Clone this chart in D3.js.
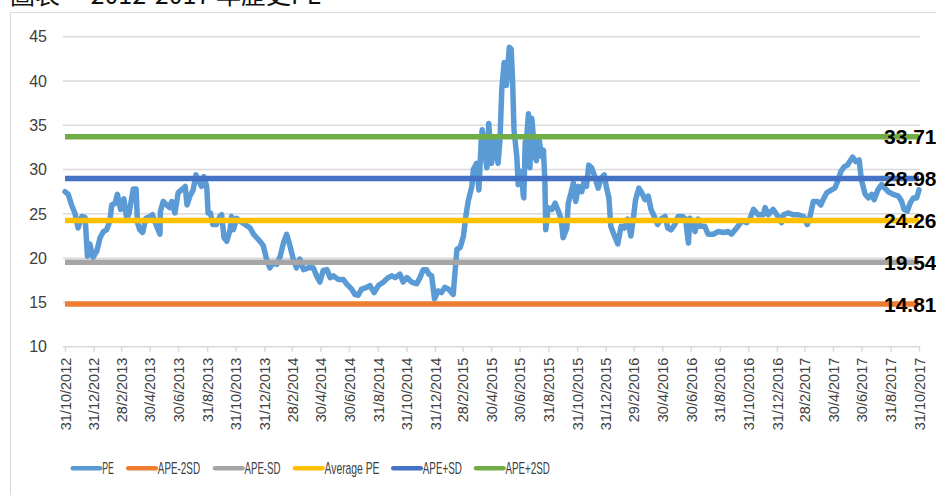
<!DOCTYPE html>
<html><head><meta charset="utf-8">
<script src="https://cdn.jsdelivr.net/npm/d3@7"></script>
<style>body{margin:0;background:#fff}svg{display:block}</style>
</head><body><svg id="c" width="936" height="495"></svg>
<script>
const title = "圖表一 2012-2017 年歷史PE";
const peDates = [
"2012-10-31","2012-11-07","2012-11-14","2012-11-21","2012-11-28","2012-12-06","2012-12-13","2012-12-18","2012-12-23","2012-12-30",
"2013-01-07","2013-01-14","2013-01-21","2013-01-28","2013-02-04","2013-02-08","2013-02-15","2013-02-20","2013-02-27","2013-03-06",
"2013-03-12","2013-03-17","2013-03-26","2013-04-01","2013-04-04","2013-04-09","2013-04-15","2013-04-22","2013-05-01","2013-05-06",
"2013-05-15","2013-05-22","2013-05-23","2013-05-29","2013-06-05","2013-06-12","2013-06-16","2013-06-23","2013-06-30","2013-07-07",
"2013-07-15","2013-07-19","2013-07-25","2013-08-01","2013-08-07","2013-08-12","2013-08-19","2013-08-24","2013-08-30","2013-09-02",
"2013-09-07","2013-09-12","2013-09-20","2013-09-27","2013-10-01","2013-10-06","2013-10-12","2013-10-19","2013-10-22","2013-10-26",
"2013-11-02","2013-11-09","2013-11-20","2013-12-01","2013-12-08","2013-12-15","2013-12-22","2013-12-29","2014-01-05","2014-01-12",
"2014-01-19","2014-01-27","2014-02-03","2014-02-10","2014-02-17","2014-02-24","2014-03-03","2014-03-10","2014-03-17","2014-03-25",
"2014-04-04","2014-04-15","2014-04-22","2014-04-29","2014-05-06","2014-05-14","2014-05-21","2014-05-28","2014-06-07","2014-06-18",
"2014-06-25","2014-07-06","2014-07-13","2014-07-20","2014-07-27","2014-08-07","2014-08-14","2014-08-23","2014-09-01","2014-09-12",
"2014-09-22","2014-09-30","2014-10-07","2014-10-17","2014-10-24","2014-11-01","2014-11-11","2014-11-22","2014-11-29","2014-12-06",
"2014-12-13","2014-12-18","2014-12-24","2014-12-30","2015-01-07","2015-01-14","2015-01-21","2015-01-29","2015-02-08","2015-02-16",
"2015-02-23","2015-03-02","2015-03-07","2015-03-12","2015-03-20","2015-03-23","2015-03-30","2015-04-04","2015-04-09","2015-04-11",
"2015-04-16","2015-04-21","2015-04-25","2015-05-01","2015-05-08","2015-05-15","2015-05-19","2015-05-23","2015-05-28","2015-06-02",
"2015-06-08","2015-06-12","2015-06-15","2015-06-18","2015-06-24","2015-06-27","2015-06-29","2015-07-01","2015-07-04","2015-07-08",
"2015-07-09","2015-07-12","2015-07-14","2015-07-19","2015-07-22","2015-07-26","2015-07-31","2015-08-02","2015-08-05","2015-08-09",
"2015-08-11","2015-08-16","2015-08-20","2015-08-23","2015-08-25","2015-08-30","2015-09-07","2015-09-14","2015-09-21","2015-09-27",
"2015-10-01","2015-10-09","2015-10-12","2015-10-18","2015-10-23","2015-10-28","2015-11-03","2015-11-10","2015-11-15","2015-11-20",
"2015-11-25","2015-12-01","2015-12-08","2015-12-15","2015-12-21","2015-12-28","2016-01-02","2016-01-07","2016-01-11","2016-01-19",
"2016-01-26","2016-02-02","2016-02-09","2016-02-16","2016-02-23","2016-02-28","2016-03-04","2016-03-11","2016-03-17","2016-03-24",
"2016-03-31","2016-04-06","2016-04-13","2016-04-20","2016-04-27","2016-05-06","2016-05-12","2016-05-19","2016-05-27","2016-06-03",
"2016-06-12","2016-06-19","2016-06-25","2016-06-28","2016-07-02","2016-07-09","2016-07-16","2016-07-20","2016-07-30","2016-08-06",
"2016-08-17","2016-08-28","2016-09-08","2016-09-18","2016-09-25","2016-10-06","2016-10-17","2016-10-28","2016-11-04","2016-11-11",
"2016-11-21","2016-12-02","2016-12-06","2016-12-13","2016-12-23","2016-12-31","2017-01-10","2017-01-14","2017-01-25","2017-02-04",
"2017-02-15","2017-02-26","2017-03-06","2017-03-12","2017-03-19","2017-03-28","2017-04-04","2017-04-09","2017-04-17","2017-04-27",
"2017-05-04","2017-05-11","2017-05-17","2017-05-24","2017-05-31","2017-06-05","2017-06-11","2017-06-18","2017-06-25","2017-06-30",
"2017-07-08","2017-07-15","2017-07-22","2017-07-27","2017-08-04","2017-08-12","2017-08-19","2017-08-26","2017-09-06","2017-09-17",
"2017-09-24","2017-09-29","2017-10-06","2017-10-12","2017-10-19","2017-10-26","2017-10-31"
];
const peValues = [
27.5,27.2,26.0,25.1,23.4,24.7,24.6,20.2,21.6,20.1,
20.8,22.3,23.0,23.2,24.2,26.0,26.2,27.2,25.5,26.7,
24.4,25.1,27.8,27.8,24.0,23.2,22.9,24.5,24.7,24.9,
23.6,22.7,25.3,26.4,26.0,25.7,26.4,25.1,27.4,27.7,
28.1,26.0,27.0,27.7,29.4,28.8,28.1,29.2,28.1,25.1,
25.1,23.8,23.8,24.7,24.9,22.3,21.9,23.2,24.7,23.2,
24.5,24.2,23.8,23.4,22.7,22.3,21.9,21.4,19.9,18.9,
19.5,19.3,20.2,21.7,22.7,21.4,19.9,18.9,19.9,18.7,
18.9,18.9,18.0,17.3,18.6,18.7,17.8,18.0,17.6,17.6,
17.1,16.5,15.9,15.8,16.5,16.7,16.9,16.1,16.9,17.3,
17.8,18.0,17.8,18.2,17.3,17.8,17.3,17.1,17.8,18.7,
18.7,18.2,18.0,15.4,16.3,16.1,16.7,16.5,15.9,21.0,
21.2,22.5,24.7,26.4,28.1,30.0,30.7,27.7,33.3,34.5,
32.2,30.2,35.2,30.7,33.3,30.7,33.3,39.1,42.1,39.5,
43.8,43.6,40.1,34.5,31.5,28.3,28.5,29.8,29.6,27.0,
26.8,33.1,32.8,36.3,30.2,35.8,32.8,31.5,31.0,33.0,
33.3,31.5,32.2,28.8,23.2,25.7,25.5,26.2,25.3,24.4,
22.3,23.4,26.2,27.4,28.5,26.4,28.1,27.5,28.7,28.1,
30.5,30.2,29.2,27.9,29.0,29.4,27.9,26.8,23.6,22.5,
21.6,23.6,23.4,24.4,22.5,24.4,26.6,27.9,27.4,26.6,
27.0,25.5,24.7,23.8,24.4,24.7,23.4,23.2,23.8,24.7,
24.7,24.4,21.7,24.5,24.2,23.0,24.4,23.6,23.6,22.7,
22.7,23.0,22.9,23.0,22.7,23.4,24.2,24.0,24.5,25.5,
24.9,24.9,25.7,24.9,25.5,24.9,24.0,24.9,25.1,24.9,
24.9,24.7,23.8,24.7,26.4,26.4,26.0,26.6,27.4,27.7,
27.9,28.8,29.8,30.3,30.5,30.9,31.4,30.9,31.1,28.8,
27.2,26.8,27.2,26.6,27.7,28.3,27.9,27.5,27.2,27.0,
26.4,25.5,25.3,26.2,26.8,26.8,27.7
];
const seriesNames = ["PE","APE-2SD","APE-SD","Average PE","APE+SD","APE+2SD"];
const bandValues = [14.81, 19.54, 24.26, 28.98, 33.71];
const xTickLabels = ["31/10/2012","31/12/2012","28/2/2013","30/4/2013","30/6/2013","31/8/2013","31/10/2013","31/12/2013",
"28/2/2014","30/4/2014","30/6/2014","31/8/2014","31/10/2014","31/12/2014","28/2/2015","30/4/2015","30/6/2015","31/8/2015",
"31/10/2015","31/12/2015","29/2/2016","30/4/2016","30/6/2016","31/8/2016","31/10/2016","31/12/2016","28/2/2017","30/4/2017",
"30/6/2017","31/8/2017","31/10/2017"];
const yTicks = [10,15,20,25,30,35,40,45];

// styles
const seriesColors = ["#5B9BD5","#ED7D31","#A5A5A5","#FFC000","#4472C4","#70AD47"];
const legendX = [72.7,128.3,215,295,393.3,476];
const legendTextW = [11.6,42.3,36,55,39,44.3];

const parseISO = d3.timeParse("%Y-%m-%d");
const parseLbl = d3.timeParse("%d/%m/%Y");
const pe = peDates.map((d,i)=>({date:parseISO(d), v:peValues[i]}));
const tickDates = xTickLabels.map(parseLbl);

const svg = d3.select("#c");
const FONT = "'Liberation Sans', Arial, sans-serif";

const x = d3.scaleTime().domain([tickDates[0], tickDates[tickDates.length-1]]).range([65, 919]);
const y = d3.scaleLinear().domain([10,45]).range([346.7, 36.7]);

// frame
svg.append("rect").attr("x",10.5).attr("y",12.5).attr("width",940).attr("height",500)
  .attr("fill","none").attr("stroke","#d9d9d9").attr("stroke-width",1);

// title (cut off at top as in original)
svg.append("text").attr("x",10).attr("y",4).text(title)
  .attr("font-family","'Noto Sans CJK TC','Noto Sans CJK SC',sans-serif").attr("font-size",25).attr("fill","#111");

// gridlines
const [x0,x1] = x.range();
svg.append("g").selectAll("line").data(yTicks).join("line")
  .attr("x1",x0-2).attr("x2",x1+1).attr("y1",d=>y(d)).attr("y2",d=>y(d))
  .attr("stroke","#d9d9d9").attr("stroke-width",1.5);

// y labels
svg.append("g").selectAll("text").data(yTicks).join("text")
  .attr("x",47).attr("y",d=>y(d)).attr("dy","0.36em").attr("text-anchor","end")
  .attr("font-family",FONT).attr("font-size",16).attr("fill","#404040").text(d=>d);

// x axis
const xAxis = d3.axisBottom(x).tickValues(tickDates).tickSize(5).tickFormat((d,i)=>xTickLabels[i]);
const gx = svg.append("g").attr("transform",`translate(0,${y(10)})`).call(xAxis);
gx.select(".domain").remove();
gx.selectAll(".tick line").attr("stroke","#d9d9d9").attr("stroke-width",1.5);
gx.selectAll(".tick text").attr("transform","rotate(-90)").attr("x",-11).attr("y",0).attr("dy","0.36em")
  .style("text-anchor","end").attr("font-family",FONT).attr("font-size",14.5).attr("fill","#404040");

// PE line
const line = d3.line().x(d=>x(d.date)).y(d=>y(d.v));
svg.append("path").datum(pe).attr("d",line).attr("fill","none")
  .attr("stroke",seriesColors[0]).attr("stroke-width",5.5).attr("stroke-linejoin","round").attr("stroke-linecap","round");

// band lines
const first = pe[0].date, last = pe[pe.length-1].date;
bandValues.forEach((v,i)=>{
  svg.append("path").datum([{date:first,v},{date:last,v}]).attr("d",line)
    .attr("fill","none").attr("stroke",seriesColors[i+1]).attr("stroke-width",5.5);
});

// right value labels
svg.append("g").selectAll("text").data(bandValues).join("text")
  .attr("x",884).attr("y",d=>y(d)).attr("dy","0.36em")
  .attr("font-family",FONT).attr("font-weight","bold").attr("font-size",21).attr("fill","#000")
  .text(d=>d.toFixed(2));

// legend
const lg = svg.append("g");
seriesNames.forEach((n,i)=>{
  lg.append("line").attr("x1",legendX[i]).attr("x2",legendX[i]+27.5).attr("y1",468.3).attr("y2",468.3)
    .attr("stroke",seriesColors[i]).attr("stroke-width",4.5).attr("stroke-linecap","round");
  lg.append("text").attr("x",legendX[i]+29.5).attr("y",473.5).text(n)
    .attr("font-family",FONT).attr("font-size",17).attr("fill","#404040")
    .attr("textLength",legendTextW[i]).attr("lengthAdjust","spacingAndGlyphs");
});
</script>
</body></html>
